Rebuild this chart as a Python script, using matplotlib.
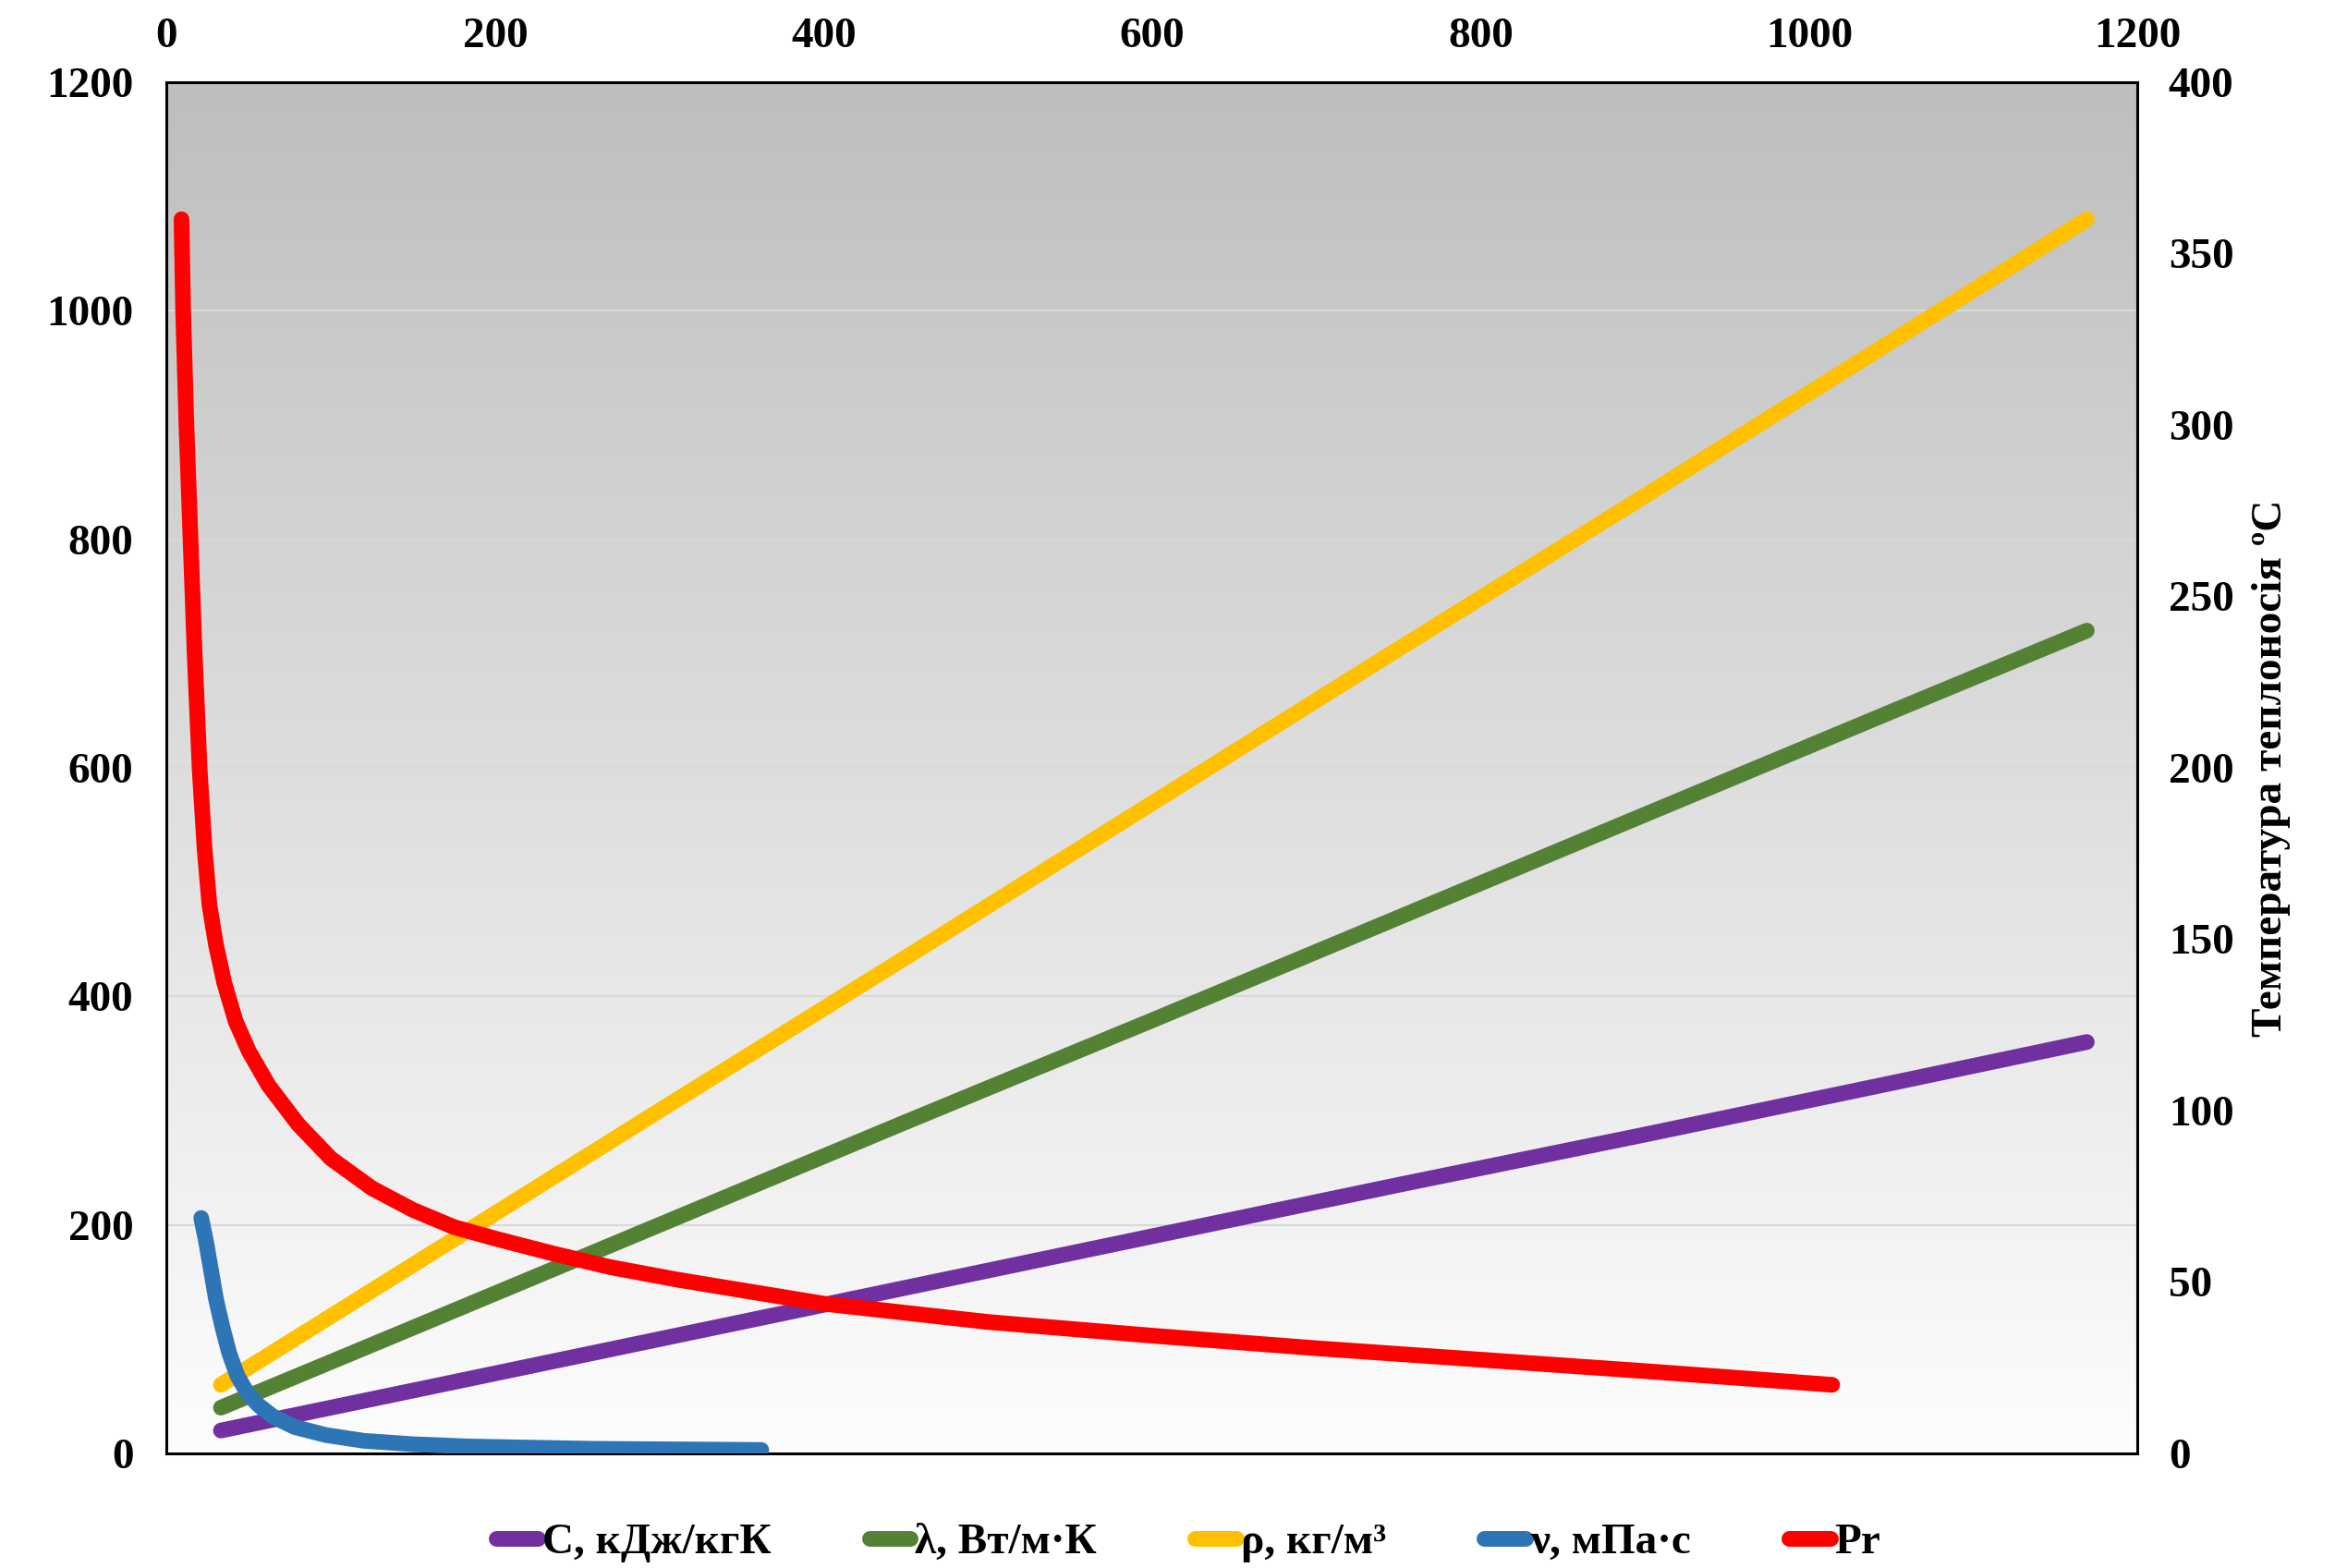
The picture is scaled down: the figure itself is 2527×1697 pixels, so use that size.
import numpy as np
import matplotlib.pyplot as plt
from matplotlib.colors import LinearSegmentedColormap
from matplotlib.lines import Line2D

plt.rcParams['font.family'] = ['Liberation Serif', 'DejaVu Serif']
plt.rcParams['font.weight'] = 'bold'

# coolant properties, all drawn against the top / left scales
c_x = [33, 150, 300, 450, 600, 750, 900, 1050, 1169]
c_y = [20, 55, 100, 145, 190, 235, 279, 324, 360]

lam_x = [33, 150, 300, 450, 600, 750, 900, 1050, 1169]
lam_y = [40, 110, 200, 290, 379, 469, 559, 649, 720]

rho_x = [33, 150, 300, 450, 600, 750, 900, 1050, 1169]
rho_y = [60, 165, 300, 434, 569, 704, 838, 973, 1080]

nu_x = [21, 24, 27, 30, 34, 38, 43, 49, 56, 65, 78, 97, 120, 150, 185,
        260, 362]
nu_y = [206, 185, 160, 135, 110, 88, 68, 53, 42, 32, 23, 16, 11, 8, 6,
        4, 3]

pr_x = [9, 10, 12, 14.5, 17, 20, 23, 26, 30, 35, 42, 50, 62, 80, 100, 125,
        150, 175, 200, 235, 270, 311, 400, 500, 600, 700, 800, 900, 1014]
pr_y = [1080, 1000, 900, 800, 700, 600, 530, 480, 445, 412, 378, 352, 322,
        288, 258, 232, 213, 198, 188, 175, 163, 152, 131, 115, 103, 92, 82,
        72, 60]

series = [
    (c_x, c_y, '#7030A0', 'С, кДж/кгК'),
    (lam_x, lam_y, '#548235', 'λ, Вт/м·К'),
    (rho_x, rho_y, '#FFC000', 'ρ, кг/м³'),
    (nu_x, nu_y, '#2E75B6', 'ν, мПа·с'),
    (pr_x, pr_y, '#FF0000', 'Pr'),
]

x_ticks = [0, 200, 400, 600, 800, 1000, 1200]
y_ticks = [0, 200, 400, 600, 800, 1000, 1200]
t_ticks = [0, 50, 100, 150, 200, 250, 300, 350, 400]

LW = 6.1
FS = 17

fig = plt.figure(figsize=(12.635, 8.485), dpi=200)
ax = fig.add_axes([0.0714, 0.0731, 0.8441, 0.8745])

# grey-to-white background of the plot area
bg = LinearSegmentedColormap.from_list('bg', ['#fdfdfd', '#bebebe'])
ax.imshow(np.linspace(0, 1, 256).reshape(-1, 1), cmap=bg, origin='lower',
          extent=[0, 1200, 0, 1200], aspect='auto', zorder=0)

for xs, ys, col, lab in series:
    ax.plot(xs, ys, color=col, lw=LW, solid_capstyle='round',
            solid_joinstyle='round', zorder=3)

ax.set_xlim(0, 1200)
ax.set_ylim(0, 1200)
ax.set_xticks(x_ticks)
ax.set_yticks(y_ticks)
ax.xaxis.tick_top()
ax.tick_params(axis='both', length=0, labelsize=FS)
ax.tick_params(axis='x', pad=10)
ax.tick_params(axis='y', pad=13)
ax.yaxis.grid(True, color='#d9d9d9', lw=0.8)
ax.set_axisbelow('line')
for s in ax.spines.values():
    s.set_color('black')
    s.set_linewidth(1.1)

# temperature scale on the right
ax2 = ax.twinx()
ax2.set_ylim(0, 400)
ax2.set_yticks(t_ticks)
ax2.tick_params(axis='y', length=0, labelsize=FS, pad=12)
ax2.set_ylabel('Температура теплоносія ºC', fontsize=FS, fontweight='bold',
               labelpad=7)
for s in ax2.spines.values():
    s.set_visible(False)

handles = [Line2D([], [], color=col, lw=LW, solid_capstyle='round')
           for _, _, col, _ in series]
labels = [lab for _, _, _, lab in series]
fig.legend(handles, labels, loc='center', bbox_to_anchor=(0.509, 0.016),
           ncol=5, frameon=False, fontsize=FS, handlelength=0.95,
           handletextpad=0.1, columnspacing=2.25)

fig.savefig('out.png', dpi=200)
